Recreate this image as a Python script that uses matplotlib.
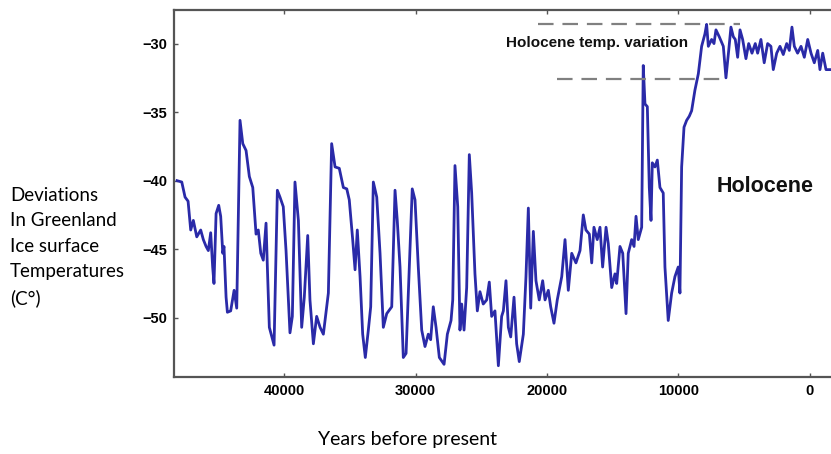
import matplotlib
matplotlib.use("Agg")
import matplotlib.pyplot as plt

# === DATA (years before present, temperature deviation) === #
years = [
    48140, 47780, 47530, 47300, 47100, 46900, 46640, 46340, 46140, 45930,
    45760, 45580, 45430, 45330, 45170, 44970, 44820, 44660, 44570, 44410,
    44310, 44060, 43800, 43600, 43350, 43140, 42890, 42640, 42380, 42130,
    41960, 41770, 41580, 41370, 41270, 41120, 40760, 40510, 40310, 40060,
    39850, 39550, 39370, 39170, 38910, 38660, 38460, 38200, 38030, 37770,
    37520, 37260, 37010, 36630, 36380, 36120, 35800, 35490, 35230, 35040,
    34780, 34600, 34430, 34220, 34020, 33820, 33590, 33410, 33210, 32950,
    32700, 32450, 32190, 31810, 31560, 31390, 31180, 30930, 30720, 30470,
    30250, 30040, 29790, 29530, 29280, 29030, 28850, 28650, 28440, 28190,
    27830, 27580, 27300, 27170, 27000, 26790, 26620, 26490, 26310, 26110,
    25910, 25730, 25480, 25300, 25100, 24850, 24590, 24390, 24210, 23960,
    23700, 23450, 23320, 23120, 22940, 22760, 22510, 22310, 22110, 21800,
    21600, 21420, 21240, 21040, 20840, 20590, 20330, 20150, 19900, 19720,
    19470, 19220, 18880, 18630, 18380, 18120, 17800, 17490, 17240, 17040,
    16780, 16600, 16430, 16180, 15970, 15770, 15510, 15340, 15080, 14830,
    14700, 14450, 14240, 13990, 13820, 13560, 13380, 13230, 13060, 12800,
    12680, 12550, 12370, 12220, 12090, 11990, 11790, 11610, 11410, 11160,
    11030, 10780, 10520, 10270, 10020, 9890, 9760, 9580, 9380, 9180,
    9000, 8750, 8490, 8240, 7990, 7860, 7730, 7480, 7300, 7150,
    6900, 6590, 6390, 6180, 6010, 5830, 5680, 5500, 5320, 5120,
    4870, 4660, 4410, 4160, 3980, 3730, 3480, 3220, 2970, 2790,
    2530, 2280, 2030, 1770, 1570, 1370, 1190, 940, 680, 430,
    170, -80, -330, -590, -760, -970, -1220, -1600,
]
temps = [
    -40.0, -40.1, -41.2, -41.5, -43.6, -42.9, -44.1, -43.6, -44.3, -44.8,
    -45.1, -43.8, -46.3, -47.5, -42.4, -41.8, -42.6, -45.3, -44.8, -48.5,
    -49.6, -49.5, -48.0, -49.3, -35.6, -37.3, -37.8, -39.7, -40.5, -43.9,
    -43.6, -45.3, -45.8, -43.1, -46.3, -50.7, -52.0, -40.7, -41.2, -41.9,
    -45.1, -51.1, -49.9, -40.1, -42.9, -50.7, -48.5, -44.0, -48.7, -51.9,
    -49.9, -50.7, -51.2, -48.2, -37.3, -39.0, -39.1, -40.5, -40.6, -41.4,
    -44.3, -46.5, -43.6, -47.0, -51.2, -52.9, -50.9, -49.2, -40.1, -41.2,
    -45.3, -50.7, -49.7, -49.2, -40.7, -42.9, -46.3, -52.9, -52.6, -46.3,
    -40.6, -41.4, -46.3, -50.9, -52.1, -51.2, -51.6, -49.2, -50.7, -52.9,
    -53.4, -51.2, -50.2, -48.7, -38.9, -41.9, -50.9, -49.0, -50.9, -47.8,
    -38.1, -40.9, -46.8, -49.5, -48.1, -49.0, -48.7, -47.4, -49.9, -49.5,
    -53.5, -49.9, -49.5, -47.3, -50.7, -51.4, -48.5, -51.9, -53.2, -51.2,
    -47.0, -42.0, -49.3, -43.7, -47.3, -48.7, -47.3, -48.7, -48.0, -49.2,
    -50.4, -48.7, -47.0, -44.3, -48.0, -45.3, -46.0, -45.1, -42.5, -43.6,
    -43.9, -46.0, -43.4, -44.3, -43.4, -46.3, -43.4, -44.6, -47.8, -46.8,
    -47.5, -44.8, -45.3, -49.7, -45.3, -44.3, -44.8, -42.6, -44.3, -43.4,
    -31.6, -34.4, -34.6, -40.5, -42.9, -38.7, -39.0, -38.5, -40.5, -40.9,
    -46.3, -50.2, -48.2, -47.0, -46.3, -48.2, -39.0, -36.1, -35.6, -35.3,
    -34.9, -33.4, -32.2, -30.2, -29.3, -28.6, -30.2, -29.7, -30.0, -29.0,
    -29.5, -30.2, -32.5, -30.5, -28.8, -29.5, -29.7, -31.0, -29.0, -29.7,
    -31.1, -30.0, -30.7, -30.0, -30.7, -29.7, -31.4, -30.0, -30.2, -31.9,
    -30.7, -30.2, -30.8, -30.0, -30.5, -28.8, -30.2, -30.7, -30.2, -31.0,
    -29.7, -30.7, -31.4, -30.5, -31.9, -30.7, -31.9, -31.9,
]

# Holocene range markers (dashed lines)
upper_span = [20690, 5320]
upper_level = -28.6
lower_span = [19240, 6240]
lower_level = -32.6

x_ticks = [40000, 30000, 20000, 10000, 0]
y_ticks = [-30, -35, -40, -45, -50]

# === PLOT === #
fig = plt.figure(figsize=(8.31, 4.54), dpi=100)
ax = fig.add_axes([0.2094, 0.1703, 0.7906, 0.8077])

ax.plot(years, temps, color='#2a2aa8', linewidth=2.0)
ax.plot(upper_span, [upper_level] * 2, color='#808080', linewidth=1.6, dashes=(7, 4))
ax.plot(lower_span, [lower_level] * 2, color='#808080', linewidth=1.6, dashes=(7, 4))

ax.set_xlim(48370, -1600)
ax.set_ylim(-54.3, -27.55)
ax.set_xticks(x_ticks)
ax.set_yticks(y_ticks)

tick_font = ['Liberation Sans Narrow', 'Liberation Sans']
for lab in ax.get_xticklabels() + ax.get_yticklabels():
    lab.set_fontfamily(tick_font)
    lab.set_fontweight('bold')
    lab.set_fontsize(10.5)

ax.tick_params(direction='in', length=3, width=1, color='#555555',
               top=True, right=False, pad=5)
for name, sp in ax.spines.items():
    sp.set_color('#555555')
    sp.set_linewidth(1.6)
ax.spines['right'].set_visible(False)

ax.text(23120, -29.95, 'Holocene temp. variation', ha='left', va='center',
        fontsize=11, fontweight='bold', family=tick_font, color='#111111')
ax.text(7070, -40.4, 'Holocene', ha='left', va='center',
        fontsize=15.5, fontweight='bold', family=['Liberation Sans'], color='#111111')

fig.text(10 / 831, 1 - 247 / 454,
         'Deviations\nIn Greenland\nIce surface\nTemperatures\n(C°)',
         ha='left', va='center', fontsize=13.5, family=['Lato', 'DejaVu Sans'],
         linespacing=1.6)
fig.text(407 / 831, 1 - 440 / 454, 'Years before present', ha='center', va='center',
         fontsize=14, family=['Lato', 'DejaVu Sans'])

fig.savefig('out.png', dpi=100)
